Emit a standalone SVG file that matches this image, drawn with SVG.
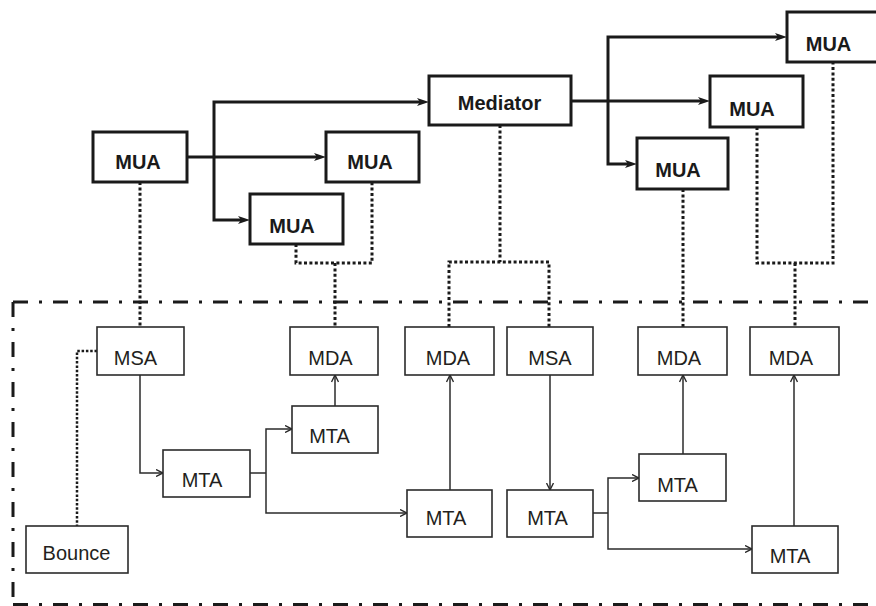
<svg xmlns="http://www.w3.org/2000/svg" width="876" height="606" viewBox="0 0 876 606">
<style>
.bbox{fill:#fff;stroke:#1a1a1a;stroke-width:3}
.tbox{fill:#fff;stroke:#2b2b2b;stroke-width:1.6}
.bt{font-family:"Liberation Sans",Arial,sans-serif;font-weight:bold;font-size:20px;fill:#1a1a1a;text-anchor:middle}
.tt{font-family:"Liberation Sans",Arial,sans-serif;font-size:20px;fill:#231f20;text-anchor:middle}
.bl{fill:none;stroke:#1a1a1a;stroke-width:3}
.tl{fill:none;stroke:#2b2b2b;stroke-width:1.5}
.bd{fill:none;stroke:#1a1a1a;stroke-width:3;stroke-dasharray:3 2.4}
.td{fill:none;stroke:#1a1a1a;stroke-width:2.5;stroke-dasharray:2.5 1.8}
.dd{fill:none;stroke:#1a1a1a;stroke-width:3;stroke-dasharray:15 11 3 11}
</style>
<defs>
<marker id="ab" viewBox="0 0 12 8" markerWidth="12" markerHeight="8" refX="6" refY="4" orient="auto" markerUnits="userSpaceOnUse">
<path d="M0,0 L12,4 L0,8 L3,4 z" fill="#1a1a1a"/>
</marker>
<marker id="at" viewBox="0 0 8 8" markerWidth="8" markerHeight="8" refX="7.5" refY="4" orient="auto" markerUnits="userSpaceOnUse">
<path d="M0.5,0.5 L7.5,4 L0.5,7.5" fill="none" stroke="#2b2b2b" stroke-width="1.4"/>
</marker>
</defs>

<g id="boundary">
<path class="dd" d="M13,302 H880"/>
<path class="dd" d="M13,302 V606"/>
<path class="dd" d="M13,604.5 H880"/>
</g>

<g id="connectors">
<path class="bl" d="M187,157 H320" marker-end="url(#ab)"/>
<path class="bl" d="M214,157 V102 H423" marker-end="url(#ab)"/>
<path class="bl" d="M214,157 V220 H244" marker-end="url(#ab)"/>
<path class="bl" d="M571,101 H704" marker-end="url(#ab)"/>
<path class="bl" d="M608,101 V37 H781" marker-end="url(#ab)"/>
<path class="bl" d="M608,101 V164 H631" marker-end="url(#ab)"/>

<path class="bd" d="M140,182 V327"/>
<path class="bd" d="M296,244 V263 H372 V182"/>
<path class="bd" d="M335,263 V327"/>
<path class="bd" d="M500,125 V262"/>
<path class="bd" d="M449,327 V262 H549 V327"/>
<path class="bd" d="M683,189 V327"/>
<path class="bd" d="M757,127 V263 H833 V62"/>
<path class="bd" d="M795,263 V327"/>
<path class="td" d="M97,351 H77 V526"/>

<path class="tl" d="M140,375 V473 H163" marker-end="url(#at)"/>
<path class="tl" d="M250,473 H266"/>
<path class="tl" d="M266,473 V429 H292" marker-end="url(#at)"/>
<path class="tl" d="M266,473 V513 H407" marker-end="url(#at)"/>
<path class="tl" d="M335,406 V375" marker-end="url(#at)"/>
<path class="tl" d="M450,490 V375" marker-end="url(#at)"/>
<path class="tl" d="M550,375 V490" marker-end="url(#at)"/>
<path class="tl" d="M593,513 H608"/>
<path class="tl" d="M608,513 V478 H639" marker-end="url(#at)"/>
<path class="tl" d="M608,513 V549 H752" marker-end="url(#at)"/>
<path class="tl" d="M683,454 V375" marker-end="url(#at)"/>
<path class="tl" d="M794,526 V375" marker-end="url(#at)"/>
</g>

<g id="mua1"><rect class="bbox" x="93" y="132" width="94" height="50"/><text class="bt" x="138" y="169">MUA</text></g>
<g id="mua2"><rect class="bbox" x="326" y="132" width="93" height="50"/><text class="bt" x="370" y="169">MUA</text></g>
<g id="mua3"><rect class="bbox" x="250" y="194" width="93" height="50"/><text class="bt" x="292" y="233">MUA</text></g>
<g id="mediator"><rect class="bbox" x="429" y="76" width="142" height="49"/><text class="bt" x="499.5" y="110">Mediator</text></g>
<g id="mua4"><rect class="bbox" x="637" y="138" width="91" height="51"/><text class="bt" x="678" y="177">MUA</text></g>
<g id="mua5"><rect class="bbox" x="710" y="76" width="93" height="51"/><text class="bt" x="752" y="116">MUA</text></g>
<g id="mua6"><rect class="bbox" x="787" y="12" width="100" height="50"/><text class="bt" x="828.5" y="51">MUA</text></g>

<g id="msa1"><rect class="tbox" x="97" y="327" width="87" height="48"/><text class="tt" x="135.5" y="365">MSA</text></g>
<g id="mda1"><rect class="tbox" x="290" y="327" width="88" height="48"/><text class="tt" x="330.5" y="365">MDA</text></g>
<g id="mda2"><rect class="tbox" x="405" y="327" width="89" height="48"/><text class="tt" x="448" y="365">MDA</text></g>
<g id="msa2"><rect class="tbox" x="507" y="327" width="86" height="48"/><text class="tt" x="550" y="365">MSA</text></g>
<g id="mda3"><rect class="tbox" x="638" y="327" width="89" height="48"/><text class="tt" x="679" y="365">MDA</text></g>
<g id="mda4"><rect class="tbox" x="750" y="327" width="89" height="48"/><text class="tt" x="791" y="365">MDA</text></g>
<g id="mta1"><rect class="tbox" x="292" y="406" width="86" height="47"/><text class="tt" x="329.5" y="443">MTA</text></g>
<g id="mta2"><rect class="tbox" x="163" y="450" width="87" height="47"/><text class="tt" x="202" y="487">MTA</text></g>
<g id="bounce"><rect class="tbox" x="26" y="526" width="102" height="47"/><text class="tt" x="76.5" y="560">Bounce</text></g>
<g id="mta3"><rect class="tbox" x="407" y="490" width="85" height="47"/><text class="tt" x="446" y="525">MTA</text></g>
<g id="mta4"><rect class="tbox" x="507" y="490" width="86" height="47"/><text class="tt" x="547.5" y="525">MTA</text></g>
<g id="mta5"><rect class="tbox" x="639" y="454" width="87" height="47"/><text class="tt" x="677.5" y="492">MTA</text></g>
<g id="mta6"><rect class="tbox" x="752" y="526" width="86" height="47"/><text class="tt" x="790" y="563">MTA</text></g>
</svg>
